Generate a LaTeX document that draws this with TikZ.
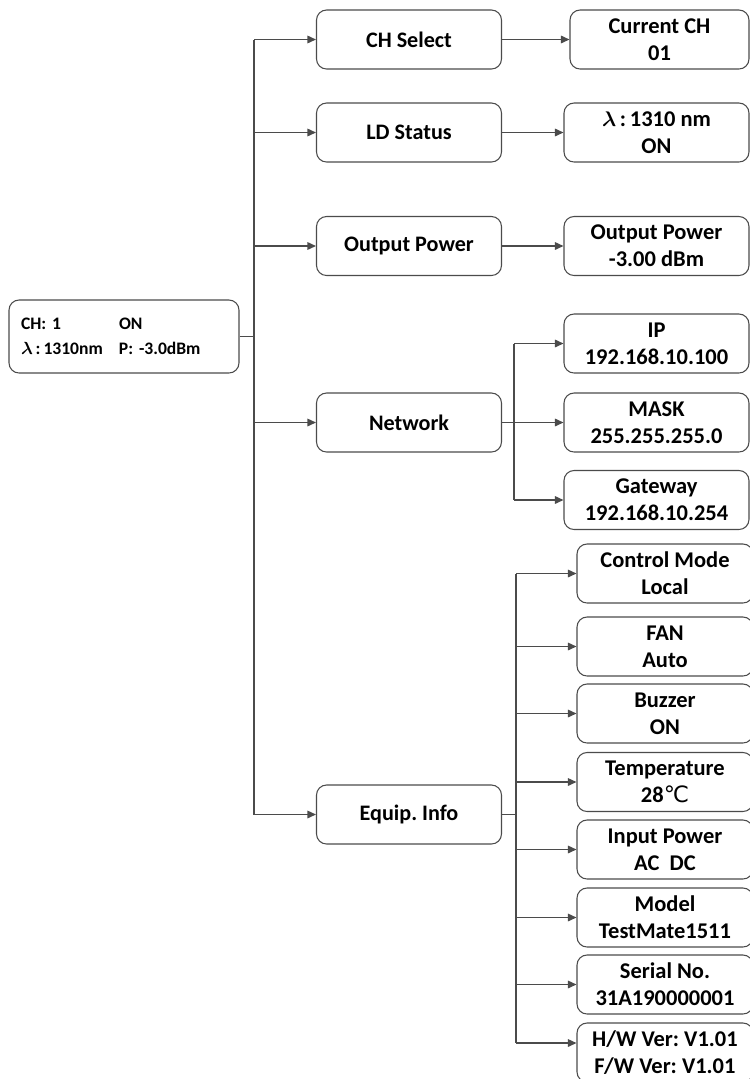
\documentclass[tikz,border=0pt]{standalone}
\usepackage{fontspec}
\usepackage{amsmath, amssymb}
\setmainfont{Carlito}
\newfontfamily\symfont{DejaVu Sans}
\usepackage{tikz}
\usetikzlibrary{positioning}
\usetikzlibrary{arrows.meta}
\definecolor{linegray}{RGB}{75,75,75}
\frenchspacing
\tikzset{
  menubox/.style={draw=linegray, line width=0.6pt, rounded corners=0.2cm,
    minimum width=3.7cm, minimum height=1.18cm, inner sep=0pt, align=center,
    font=\fontsize{12.6}{15}\selectfont\bfseries},
  valbox/.style={menubox, font=\fontsize{12.8}{15.3}\selectfont\bfseries},
  infobox/.style={valbox, minimum width=3.52cm},
  link/.style={draw=linegray, line width=0.85pt},
  arr/.style={link, -{Triangle[length=0.17cm,width=0.15cm]}},
}

\begin{document}
\begin{tikzpicture}[x=0.02cm,y=-0.02cm]
\useasboundingbox (0,0) rectangle (750,1079);
% home screen
\node[menubox, minimum width=4.6cm, minimum height=1.46cm, text width=4.12cm,
  inner xsep=0.24cm, align=left, font=\fontsize{10}{14.2}\selectfont\bfseries]
  (home) at (124,336.5)
  {\makebox[1.96cm][l]{CH: 1}ON\\\makebox[1.96cm][l]{$\boldsymbol{\lambda}$\,:\,1310nm}P: -3.0dBm};
\coordinate (trunk) at (254,0);
% first level
\node[menubox] (chsel) at (409,39.5) {CH Select};
\node[menubox] (ldst) at (409,132.5) {LD Status};
\node[menubox] (outp) at (409,246) {Output Power};
\node[menubox] (net) at (409,422.5) {Network};
\node[menubox] (equip) at (409,814.5) {Equip. Info};
% second level
\node[valbox, minimum width=3.58cm] (curch) at (659.5,39.5) {Current CH\\01};
\node[valbox] (ldval) at (656.5,132.5) {$\boldsymbol{\lambda}$\,:\,1310 nm\\ON};
\node[valbox] (opval) at (656.5,246) {Output Power\\-3.00 dBm};
\node[valbox] (ip) at (656.5,343.5) {IP\\192.168.10.100};
\node[valbox] (mask) at (656.5,422.5) {MASK\\255.255.255.0};
\node[valbox] (gw) at (656.5,500) {Gateway\\192.168.10.254};
\coordinate (netbus) at (514,0);
\node[infobox] (ctrl) at (665,573.5) {Control Mode\\Local};
\node[infobox] (fan) at (665,646.5) {FAN\\Auto};
\node[infobox] (buzz) at (665,713.5) {Buzzer\\ON};
\node[infobox] (temp) at (665,782) {Temperature\\28{\symfont\mdseries ℃}};
\node[infobox] (inpw) at (665,849.5) {Input Power\\AC\ \ DC};
\node[infobox] (model) at (665,917.5) {Model\\TestMate1511};
\node[infobox] (serial) at (665,984.5) {Serial No.\\31A190000001};
\node[infobox] (hwver) at (665,1052.5) {H/W Ver: V1.01\\F/W Ver: V1.01};
\coordinate (eqbus) at (516,0);
% connectors
\draw[link] (home.east) -- (home.east -| trunk);
\draw[link] (chsel.west -| trunk) -- (equip.west -| trunk);
\foreach \n in {chsel,ldst,outp,net,equip} {
\draw[arr] (\n.west -| trunk) -- (\n.west);
}
\foreach \a/\b in {chsel/curch,ldst/ldval,outp/opval} {
\draw[arr] (\a) -- (\b);
}
\draw[link] (net.east) -- (net.east -| netbus);
\draw[link] (ip.west -| netbus) -- (gw.west -| netbus);
\foreach \n in {ip,mask,gw} {
\draw[arr] (\n.west -| netbus) -- (\n.west);
}
\draw[link] (equip.east) -- (equip.east -| eqbus);
\draw[link] (ctrl.west -| eqbus) -- ([yshift=0.19cm]hwver.west -| eqbus);
\foreach \n in {ctrl,fan,buzz,temp,inpw,model,serial} {
\draw[arr] (\n.west -| eqbus) -- (\n.west);
}
\draw[arr] ([yshift=0.19cm]hwver.west -| eqbus) -- ([yshift=0.19cm]hwver.west);
\end{tikzpicture}
\end{document}
